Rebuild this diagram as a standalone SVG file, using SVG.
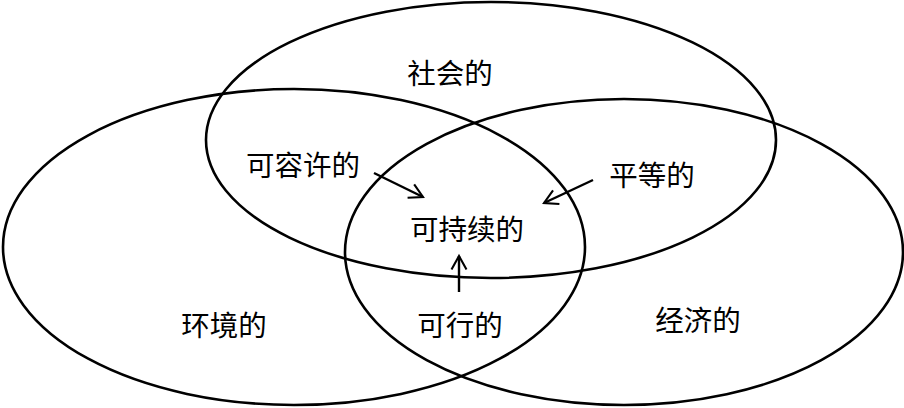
<svg xmlns="http://www.w3.org/2000/svg" width="904" height="408" viewBox="0 0 904 408">
<defs>
<style>
.set{fill:none;stroke:#000;stroke-width:2.6}
.lbl{font-family:"Liberation Serif","Noto Sans CJK SC",serif;font-size:28.5px;fill:#000;text-anchor:middle}
.arr{fill:none;stroke:#000;stroke-width:2.4;marker-end:url(#ah)}
</style>
<marker id="ah" viewBox="0 0 12 12" refX="10" refY="6" markerWidth="7.5" markerHeight="7.5" markerUnits="strokeWidth" orient="auto">
<path d="M1,1 L10,6 L1,11" fill="none" stroke="#000" stroke-width="1.4"/>
</marker>
</defs>
<rect width="904" height="408" fill="#fff"/>
<g id="social">
<ellipse class="set" cx="491" cy="140" rx="285" ry="138"/>
<text class="lbl" x="450" y="84">社会的</text>
</g>
<g id="environmental">
<ellipse class="set" cx="294" cy="247" rx="291" ry="158"/>
<text class="lbl" x="224" y="336">环境的</text>
</g>
<g id="economic">
<ellipse class="set" cx="624" cy="252" rx="279" ry="153"/>
<text class="lbl" x="698" y="331">经济的</text>
</g>
<g id="bearable"><text class="lbl" x="303" y="176">可容许的</text></g>
<g id="equitable"><text class="lbl" x="652" y="186">平等的</text></g>
<g id="viable"><text class="lbl" x="460" y="336">可行的</text></g>
<g id="sustainable"><text class="lbl" x="467" y="240">可持续的</text></g>
<g id="connectors">
<line class="arr" x1="374" y1="173" x2="423" y2="197"/>
<line class="arr" x1="593" y1="180" x2="544" y2="203"/>
<line class="arr" x1="459" y1="292" x2="459" y2="256"/>
</g>
</svg>
